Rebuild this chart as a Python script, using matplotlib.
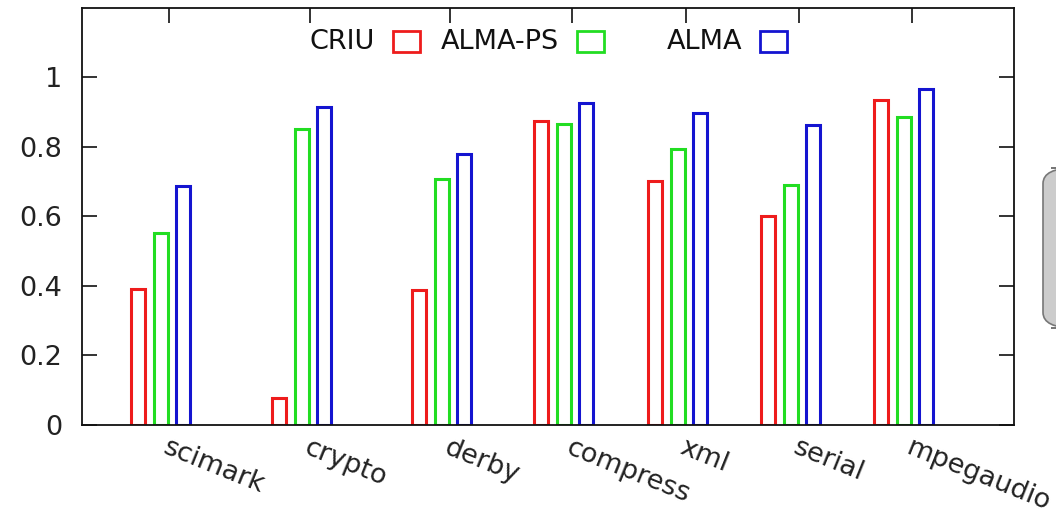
import matplotlib
matplotlib.use("Agg")
import matplotlib.pyplot as plt
from matplotlib.patches import Rectangle, FancyBboxPatch

# Benchmarks and normalised results per tool
benchmarks = ["scimark", "crypto", "derby", "compress", "xml", "serial", "mpegaudio"]
series_names = ["CRIU", "ALMA-PS", "ALMA"]
criu = [0.39, 0.077, 0.387, 0.874, 0.702, 0.602, 0.934]
alma_ps = [0.553, 0.851, 0.708, 0.865, 0.794, 0.691, 0.885]
alma = [0.688, 0.914, 0.779, 0.925, 0.897, 0.862, 0.966]
y_ticks = [0, 0.2, 0.4, 0.6, 0.8, 1.0]
y_tick_labels = ["0", "0.2", "0.4", "0.6", "0.8", "1"]

# Layout (horizontal units are screen pixels from the left border)
group_pos = [87, 228, 368, 490, 604, 717, 830]
bar_offsets = [-31, -8.5, 14]
bar_width = 14
colors = ["#ee1c1c", "#22dd22", "#1414d0"]

plt.rcParams["font.family"] = ["DejaVu Sans"]
FS = 19.5

fig = plt.figure(figsize=(10.56, 5.18), dpi=100)
ax = fig.add_axes([82 / 1056, 93 / 518, 932 / 1056, 417.5 / 518])

for values, off, col in zip([criu, alma_ps, alma], bar_offsets, colors):
    xs = [g + off for g in group_pos]
    ax.bar(xs, values, width=bar_width, fill=False, edgecolor=col,
           linewidth=2.2, zorder=2)

ax.set_xlim(0, 932)
ax.set_ylim(0, 1.2)
ax.set_yticks(y_ticks)
ax.set_yticklabels(y_tick_labels, fontsize=FS, color="#222222")
ax.set_xticks(group_pos)
ax.set_xticklabels(benchmarks, fontsize=FS, color="#222222", rotation=-22,
                   ha="left", va="top", rotation_mode="anchor")
ax.tick_params(axis="both", direction="in", length=10.5, width=1.2,
               color="#111111", top=True, right=True)
ax.tick_params(axis="y", pad=14)
ax.tick_params(axis="x", pad=7)
for sp in ax.spines.values():
    sp.set_linewidth(1.3)
    sp.set_color("#111111")

# Key: label right-aligned, followed by an open sample box
key_right = 293
key_step = 183.5
for i, (name, col) in enumerate(zip(series_names, colors)):
    xr = key_right + i * key_step
    ax.text(xr, 1.101, name, fontsize=FS, ha="right", va="center",
            color="#111111")
    ax.add_patch(Rectangle((xr + 18, 1.072), 27, 0.06, fill=False,
                           edgecolor=col, linewidth=2.0, clip_on=False))

# Rounded grey panel at the right edge
fig.patches.append(FancyBboxPatch((1043 / 1056, 190 / 518), 40 / 1056, 160 / 518,
                                  boxstyle="round,pad=0,rounding_size=0.03",
                                  transform=fig.transFigure, facecolor="#cccccc",
                                  edgecolor="#777777", linewidth=1.2))

fig.savefig("out.png", dpi=100)
